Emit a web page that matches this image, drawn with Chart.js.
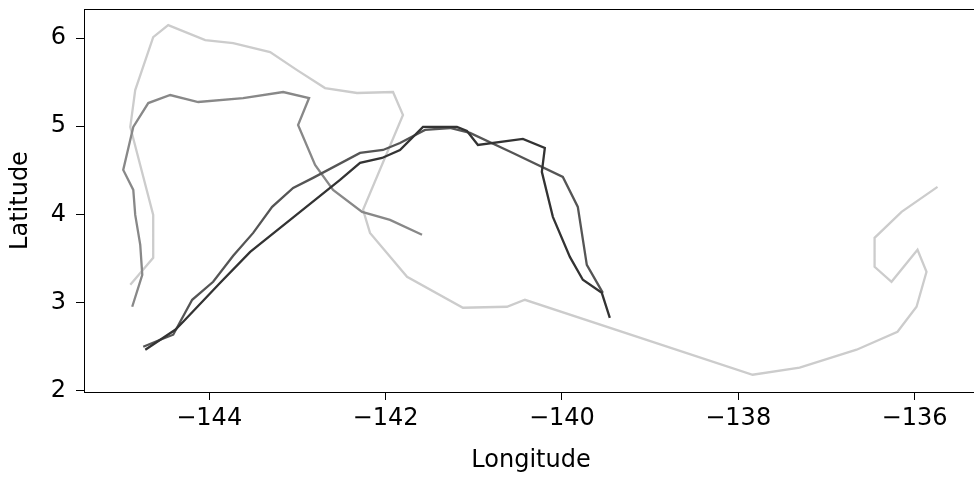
<!DOCTYPE html>
<html>
<head>
<meta charset="utf-8">
<script src="https://cdn.jsdelivr.net/npm/chart.js@4.4.1/dist/chart.umd.min.js"></script>
<style>
    html, body { margin: 0; padding: 0; background: #fff; overflow: hidden; }
    #wrap { width: 990px; height: 479px; }
</style>
</head>
<body>
<div id="wrap"><canvas id="trackChart"></canvas></div>
<script>
// Track data (longitude / latitude)
const lightLon = [-144.895, -144.635, -144.635, -144.895, -144.839, -144.635, -144.465, -144.045, -143.728, -143.309, -143.003, -142.686, -142.323, -141.915, -141.802, -142.255, -142.176, -141.756, -141.122, -140.623, -140.419, -137.836, -137.303, -136.657, -136.193, -135.977, -135.864, -135.966, -136.261, -136.453, -136.453, -136.147, -135.739];
const lightLat = [3.201, 3.507, 3.994, 4.992, 5.411, 6.011, 6.147, 5.977, 5.943, 5.841, 5.637, 5.433, 5.377, 5.388, 5.127, 4.051, 3.790, 3.292, 2.941, 2.952, 3.031, 2.181, 2.261, 2.465, 2.669, 2.952, 3.348, 3.598, 3.235, 3.405, 3.734, 4.028, 4.312];

const midLon = [-144.873, -144.759, -144.782, -144.839, -144.861, -144.975, -144.861, -144.691, -144.442, -144.125, -143.615, -143.161, -142.867, -142.992, -142.799, -142.595, -142.266, -141.949, -141.586];
const midLat = [2.952, 3.314, 3.654, 3.994, 4.278, 4.504, 4.992, 5.263, 5.354, 5.275, 5.320, 5.388, 5.320, 5.014, 4.561, 4.278, 4.028, 3.938, 3.768];

const darkLon = [-144.748, -144.555, -144.408, -144.329, -144.193, -143.955, -143.728, -143.501, -143.286, -143.048, -142.822, -142.289, -142.028, -141.836, -141.552, -141.269, -141.042, -140.555, -139.989, -139.819, -139.717, -139.535];
const darkLat = [2.499, 2.578, 2.635, 2.782, 3.031, 3.235, 3.530, 3.790, 4.085, 4.300, 4.414, 4.697, 4.731, 4.810, 4.958, 4.980, 4.924, 4.697, 4.425, 4.085, 3.428, 3.110];

const darkestLon = [-144.725, -144.385, -144.295, -143.875, -143.535, -143.309, -142.969, -142.516, -142.289, -142.040, -141.836, -141.575, -141.190, -141.076, -140.952, -140.442, -140.193, -140.227, -140.102, -139.909, -139.762, -139.547, -139.456];
const darkestLat = [2.465, 2.691, 2.782, 3.224, 3.575, 3.756, 4.028, 4.391, 4.584, 4.640, 4.731, 4.992, 4.992, 4.946, 4.788, 4.856, 4.754, 4.482, 3.972, 3.518, 3.258, 3.110, 2.827];

// Tick labels
const xTickValues = [-144, -142, -140, -138, -136];
const yTickValues = [2, 3, 4, 5, 6];

function toPoints(lons, lats) {
    return lons.map((lon, i) => ({ x: lon, y: lats[i] }));
}

function minusLabel(v) {
    return v < 0 ? '\u2212' + Math.abs(v) : String(v);
}

// Frame around the plot area (top + right edges)
const frame = {
    id: 'frame',
    afterDraw(chart) {
        const a = chart.chartArea;
        const ctx = chart.ctx;
        ctx.save();
        ctx.strokeStyle = '#000';
        ctx.lineWidth = 1;
        ctx.strokeRect(a.left + 0.5, a.top + 0.5, a.right - a.left, a.bottom - a.top);
        ctx.restore();
    }
};

const font = { family: 'DejaVu Sans', size: 24 };

function track(data, color, order) {
    return {
        data: data,
        borderColor: color,
        borderWidth: 2.3,
        showLine: true,
        pointRadius: 0,
        fill: false,
        tension: 0,
        order: order
    };
}

new Chart(document.getElementById('trackChart'), {
    type: 'scatter',
    data: {
        datasets: [
            track(toPoints(lightLon, lightLat), '#cccccc', 4),
            track(toPoints(midLon, midLat), '#888888', 3),
            track(toPoints(darkLon, darkLat), '#555555', 2),
            track(toPoints(darkestLon, darkestLat), '#333333', 1)
        ]
    },
    options: {
        responsive: true,
        maintainAspectRatio: false,
        animation: false,
        layout: { padding: { top: 9, right: 12, left: 0, bottom: 0 } },
        plugins: { legend: { display: false }, tooltip: { enabled: false } },
        scales: {
            x: {
                type: 'linear',
                min: -145.42,
                max: -135.28,
                afterFit: s => { s.height = 87; s.paddingLeft = 0; s.paddingRight = 0; },
                afterBuildTicks: s => { s.ticks = xTickValues.map(v => ({ value: v })); },
                grid: { display: true, drawOnChartArea: false, drawTicks: true, tickLength: 8, color: '#000' },
                border: { display: true, color: '#000', width: 1 },
                ticks: { color: '#000', font: font, padding: 4, maxRotation: 0, callback: minusLabel },
                title: { display: true, text: 'Longitude', color: '#000', font: font, padding: { top: 0, bottom: 4 } }
            },
            y: {
                type: 'linear',
                min: 1.985,
                max: 6.33,
                afterFit: s => { s.width = 84; s.paddingTop = 0; s.paddingBottom = 0; },
                afterBuildTicks: s => { s.ticks = yTickValues.map(v => ({ value: v })); },
                grid: { display: true, drawOnChartArea: false, drawTicks: true, tickLength: 8, color: '#000' },
                border: { display: true, color: '#000', width: 1 },
                ticks: { color: '#000', font: font, padding: 10, callback: minusLabel },
                title: { display: true, text: 'Latitude', color: '#000', font: font, padding: { top: 6, bottom: 0 } }
            }
        }
    },
    plugins: [frame]
});
</script>
</body>
</html>
